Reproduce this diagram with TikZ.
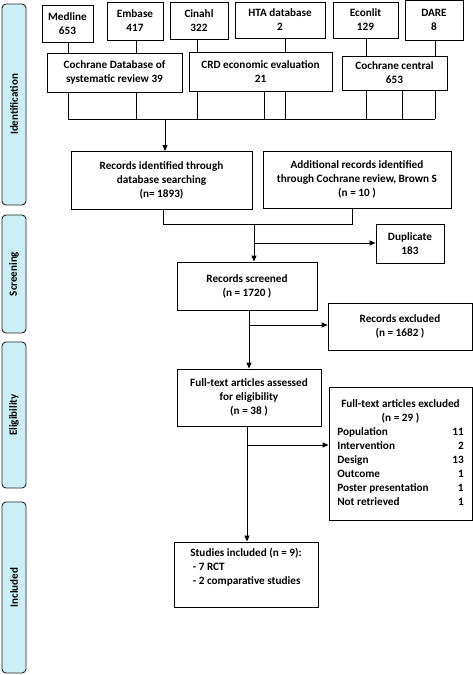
\documentclass[tikz,border=0pt]{standalone}
\usepackage{fontspec}
\setmainfont{Carlito}
\usetikzlibrary{arrows.meta,calc}
\definecolor{phasefill}{HTML}{CBEFF4}
\begin{document}
\begin{tikzpicture}[x=1pt,y=-1pt,
  box/.style={draw=black, line width=0.9pt, fill=white, align=center, inner sep=0pt,
    font=\bfseries\fontsize{11.2}{14}\selectfont},
  phase/.style={draw=black!85, line width=0.9pt, fill=phasefill, rounded corners=4pt,
    inner sep=0pt, font=\bfseries\fontsize{11}{13}\selectfont, rotate=90},
  conn/.style={line width=1pt},
  arr/.style={conn, -{Triangle[length=6pt,width=5pt]}}]
\useasboundingbox (0,0) rectangle (473,675);
% phase bars
\node[phase, minimum width=201, minimum height=24] (pid) at (14,104.5) {Identification};
\node[phase, minimum width=118, minimum height=24] (psc) at (14,274) {Screening};
\node[phase, minimum width=146, minimum height=24] (pel) at (14,415) {Eligibility};
\node[phase, minimum width=171, minimum height=24] (pin) at (14,587.5) {Included};
% sources
\node[box, minimum width=51, minimum height=37] (med) at (67.5,23.5) {Medline\\653};
\node[box, minimum width=56, minimum height=38] (emb) at (135,21) {Embase\\417};
\node[box, minimum width=58, minimum height=37] (cin) at (199,20.5) {Cinahl\\322};
\node[box, minimum width=90, minimum height=36] (hta) at (280,20) {HTA database\\2};
\node[box, minimum width=65, minimum height=36] (eco) at (365.5,20) {Econlit\\129};
\node[box, minimum width=58, minimum height=40] (dare) at (434,20) {DARE\\8};
\node[box, minimum width=135, minimum height=39] (cdsr) at (114.5,72.5) {Cochrane Database of\\systematic review 39};
\node[box, minimum width=143, minimum height=39] (crd) at (260.5,71.5) {CRD economic evaluation\\21};
\node[box, minimum width=105, minimum height=34] (cc) at (394.5,73) {Cochrane central\\653};
% main flow
\node[box, minimum width=181, minimum height=58] (rid) at (161.5,180.5) {Records identified through\\database searching\\(n= 1893)};
\node[box, minimum width=188, minimum height=57] (add) at (357,179.5) {Additional records identified\\through Cochrane review, Brown S\\(n = 10 )};
\node[box, minimum width=68, minimum height=39] (dup) at (410,243.5) {Duplicate\\183};
\node[box, minimum width=140, minimum height=48] (scr) at (247,286) {Records screened\\(n = 1720 )};
\node[box, minimum width=144, minimum height=47] (rex) at (400,326.5) {Records excluded\\(n = 1682 )};
\node[box, minimum width=144, minimum height=57] (fta) at (249,397.5) {Full-text articles assessed\\for eligibility\\(n = 38 )};
\node[box, minimum width=143, minimum height=133] (fex) at (400.5,453.5) {%
  \begin{tabular}{@{}p{115pt}@{}r@{}}
  \multicolumn{2}{@{}c@{}}{Full-text articles excluded}\\
  \multicolumn{2}{@{}c@{}}{(n = 29 )}\\
  Population & 11\\
  Intervention & 2\\
  Design & 13\\
  Outcome & 1\\
  Poster presentation & 1\\
  Not retrieved & 1
  \end{tabular}};
\node[box, align=left, minimum width=144, minimum height=65] (inc) at (246,574.5) {Studies included (n = 9):\\\ - 7 RCT\\\ - 2 comparative studies\\[3pt]};
% coordinates for connector columns
\foreach \x in {68,136,165,197,264,285,366,402,435} {\coordinate (b\x) at (\x,119);}
\coordinate (m163) at (163,224);
\coordinate (m352) at (352,224);
\coordinate (m254) at (254,224);
\coordinate (d254) at (254,243);
\coordinate (s249) at (249,325);
\coordinate (f247) at (247,445);
% top links
\draw[conn] (med.south -| b68) -- (cdsr.north -| b68);
\draw[conn] (emb.south -| b136) -- (cdsr.north -| b136);
\draw[conn] (cin.south -| b197) -- (crd.north -| b197);
\draw[conn] (hta.south -| b285) -- (crd.north -| b285);
\draw[conn] (eco.south -| b366) -- (cc.north -| b366);
\draw[conn] (dare.south -| b435) -- (cc.north -| b435);
% bus
\draw[conn] (cdsr.south -| b68) -- (b68);
\draw[conn] (cdsr.south -| b136) -- (b136);
\draw[conn] (crd.south -| b197) -- (b197);
\draw[conn] (crd.south -| b264) -- (b264);
\draw[conn] (crd.south -| b285) -- (b285);
\draw[conn] (cc.south -| b366) -- (b366);
\draw[conn] (cc.south -| b402) -- (b402);
\draw[conn] (cc.south -| b435) -- (b435);
\draw[conn] (b68) -- (b435);
\draw[arr] (b165) -- (rid.north -| b165);
% merge
\draw[conn] (rid.south -| m163) -- (m163) -- (m352) -- (add.south -| m352);
\draw[arr] (m254) -- (scr.north -| m254);
\draw[arr] (d254) -- (d254 -| dup.west);
\draw[arr] (scr.south -| s249) -- (fta.north -| s249);
\draw[arr] (s249) -- (s249 -| rex.west);
\draw[arr] (fta.south -| f247) -- (inc.north -| f247);
\draw[arr] (f247) -- (f247 -| fex.west);
\end{tikzpicture}
\end{document}
